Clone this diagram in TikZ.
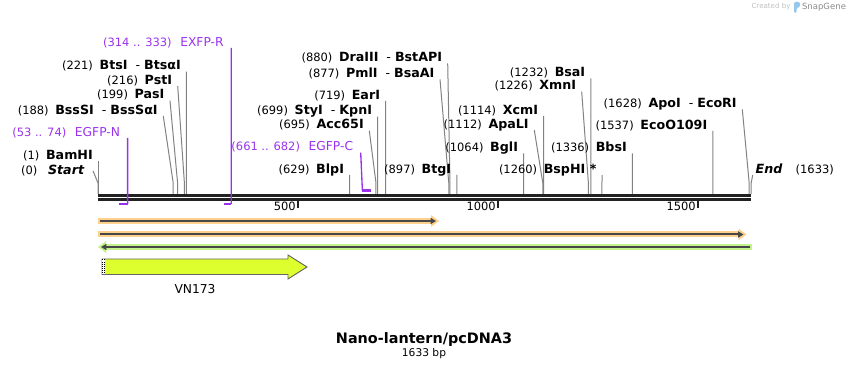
\documentclass[tikz,border=0pt]{standalone}
\usepackage{fontspec}
\setmainfont{DejaVu Sans}
\usepackage{tikz}
\usetikzlibrary{arrows.meta, positioning, calc}
\usepackage{xcolor}
\definecolor{primerpurple}{RGB}{155, 50, 235}
\definecolor{featorange}{RGB}{253, 208, 140}
\definecolor{featgreen}{RGB}{196, 242, 140}
\definecolor{vnyellow}{RGB}{222, 255, 46}
\definecolor{leadgray}{RGB}{130, 130, 130}
\definecolor{bbgray}{RGB}{34, 34, 34}
\definecolor{snapblue}{RGB}{150, 200, 235}

\newcommand{\numfont}{\fontsize{8.6}{10}\selectfont}
\newcommand{\enzfont}{\fontsize{9.5}{11}\selectfont\bfseries}
\newcommand{\cutlbl}[2]{{\numfont(#1)}\hspace{5pt}{\enzfont #2}}
\newcommand{\orcut}{\mdseries\hspace{6pt}-\hspace{3pt}\bfseries}
\newcommand{\primerlbl}[2]{{\numfont(#1)}\hspace{6.5pt}{\fontsize{9.2}{11}\selectfont #2}}

\begin{document}
\begin{tikzpicture}[
    x=0.75pt, y=-0.75pt,
    site/.style={anchor=south east, inner xsep=4pt, inner ysep=0pt,
                 text height=7pt, text depth=1.1pt},
    primer/.style={site, inner xsep=5.5pt, text=primerpurple},
    leader/.style={draw=leadgray, line width=0.75pt},
    primerline/.style={draw=primerpurple, line width=1pt},
    primerbar/.style={draw=primerpurple, line width=1.8pt},
    backbone/.style={draw=bbgray, line width=2pt},
    tickmark/.style={draw=bbgray, line width=1.5pt},
    tickno/.style={font=\numfont, inner sep=0pt},
    band/.style={line width=4.5pt},
    core/.style={draw=black!72, line width=1.5pt},
  ]
    \useasboundingbox (0,0) rectangle (850,370);

    % watermark
    \node[font=\fontsize{5.3}{6}\selectfont, text=black!25, inner sep=0pt]
      (made) at (771,7) {Created by};
    \fill[snapblue, rounded corners=1pt] (794,2) -- (800,2) -- (800,7) -- (796.5,8) -- (796.5,13) -- (794,13) -- cycle;
    \node[font=\fontsize{6.4}{7}\selectfont, text=black!45, inner sep=0pt]
      (brand) at (824,7) {SnapGene};

    % backbone
    \draw[backbone] (98,195.3) -- (751.2,195.3);
    \draw[backbone] (98,199.3) -- (751.2,199.3);
    \foreach \t in {500,1000,1500}{
      \draw[tickmark] ({98+0.4*\t},200) -- ({98+0.4*\t},208);
      \node[tickno, anchor=base east] (tick\t) at ({96+0.4*\t},211) {\t};
    }

    \coordinate (knee) at (0,183);
    \coordinate (cut0) at (98,194);
    \coordinate (cut1633) at (751.2,194);

    % cut sites
    \foreach \bp/\lx/\ly/\nm in {
        1/98.4/161/BamHI,
        188/163.3/116/{BssSI\orcut BssSαI},
        199/170/100.7/PasI,
        216/177.7/86/PstI,
        221/186.4/71.7/{BtsI\orcut BtsαI},
        629/349.6/175/BlpI,
        695/369.3/130.7/Acc65I,
        699/377.6/116.7/{StyI\orcut KpnI},
        719/385.6/101/EarI,
        877/440/79.3/{PmlI\orcut BsaAI},
        880/447.7/63.3/{DraIII\orcut BstAPI},
        897/456.8/175/BtgI,
        1064/523.6/153.3/BglI,
        1112/534.3/130/ApaLI,
        1114/543.6/116/XcmI,
        1226/581.7/91.7/XmnI,
        1232/590.8/78.3/BsaI,
        1260/602/175/{BspHI *},
        1336/632.4/153.3/BbsI,
        1537/712.8/131/EcoO109I,
        1628/742.3/109.3/{ApoI\orcut EcoRI}}{
      \coordinate (cut\bp) at ({98+0.4*\bp},194);
      \node[site] (lbl\bp) at (\lx,\ly) {\cutlbl{\bp}{\nm}};
      \draw[leader] (lbl\bp.south east) -- (cut\bp |- knee) -- (cut\bp);
    }

    % ends of the sequence
    \node[site, anchor=east, inner xsep=6.5pt] (start) at (93,171)
      {{\numfont(0)}\hspace{8pt}{\enzfont\itshape Start}};
    \draw[leader] (start.east) -- (cut0 |- knee) -- (cut0);
    \node[site, anchor=south west, inner xsep=2pt] (end) at (752.7,175)
      {{\enzfont\itshape End}\hspace{10pt}{\numfont(1633)}};
    \draw[leader] (end.south west) -- (cut1633 |- knee) -- (cut1633);

    % primers
    \coordinate (egfpnA) at ({98+0.4*53},204);
    \coordinate (egfpnB) at ({98+0.4*74},204);
    \node[primer] (egfpn) at (127.6,138) {\primerlbl{53 .. 74}{EGFP-N}};
    \draw[primerline] (egfpn.south east) -- (egfpnB);
    \draw[primerbar] (egfpnA) -- (egfpnB);

    \coordinate (exfprA) at ({98+0.4*314},204);
    \coordinate (exfprB) at ({98+0.4*333},204);
    \node[primer] (exfpr) at (231.2,48) {\primerlbl{314 .. 333}{EXFP-R}};
    \draw[primerline] (exfpr.south east) -- (exfprB);
    \draw[primerbar] (exfprA) -- (exfprB);

    \coordinate (egfpcA) at ({98+0.4*661},190.7);
    \coordinate (egfpcB) at ({98+0.4*682},190.7);
    \node[primer] (egfpc) at (360.7,152.7) {\primerlbl{661 .. 682}{EGFP-C}};
    \draw[primerline] (egfpc.south east) -- (egfpcA);
    \draw[primerbar] (egfpcA) -- (egfpcB);

    % feature bands
    \draw[band, featorange, -{Triangle[length=6pt, width=8.5pt]}] (98,221) -- (439,221);
    \draw[core, -{Triangle[length=4pt, width=4.5pt]}] (100,221) -- (436,221);
    \draw[band, featorange, -{Triangle[length=6pt, width=8.5pt]}] (98,234.5) -- (746.5,234.5);
    \draw[core, -{Triangle[length=4pt, width=4.5pt]}] (100,234.5) -- (743.5,234.5);
    \draw[band, featgreen, -{Triangle[length=6pt, width=8.5pt]}] (751.7,247) -- (98,247);
    \draw[core, -{Triangle[length=4pt, width=4.5pt]}] (750,247) -- (101,247);

    % VN173
    \draw[draw=black!60, fill=vnyellow, line width=0.7pt]
      (102,259) -- (288,259) -- (288,255) -- (307,267) -- (288,279)
      -- (288,274.5) -- (102,274.5) -- cycle;
    \fill[white] (102,259.4) rectangle (104.5,274.1);
    \draw[densely dotted, line width=0.6pt] (102.3,259.4) -- (102.3,274.1);
    \draw[densely dotted, line width=0.6pt] (104.5,259.4) -- (104.5,274.1);
    \node[font=\fontsize{9.2}{11}\selectfont] (vnlbl) at (195,289) {VN173};

    % plasmid name
    \node[font=\fontsize{10.8}{13}\selectfont\bfseries, inner sep=0pt]
      (plasmid) at (424,340) {Nano-lantern/pcDNA3};
    \node[font=\fontsize{8}{10}\selectfont, inner sep=0pt, below=0.5pt of plasmid]
      (size) {1633 bp};
  \end{tikzpicture}
\end{document}
